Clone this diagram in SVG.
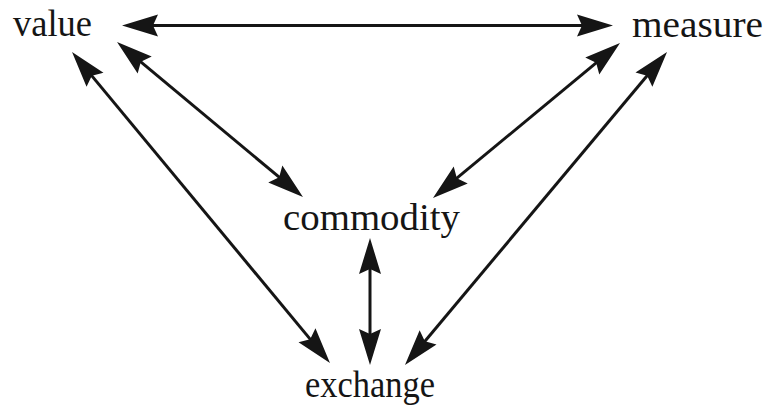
<svg xmlns="http://www.w3.org/2000/svg" width="769" height="412" viewBox="0 0 769 412">
  <style>
    .lbl { font-family: "Liberation Serif", "Times New Roman", serif; font-size: 37px; fill: #151515; }
    .con { stroke: #151515; stroke-width: 3; fill: none; }
  </style>
  <defs>
    <marker id="ah" viewBox="0 -12 36 24" refX="16" refY="0" markerWidth="36" markerHeight="24" markerUnits="userSpaceOnUse" orient="auto-start-reverse">
      <path d="M36,0 L0,-11 L5,0 L0,11 Z" fill="#151515"/>
    </marker>
  </defs>
  <rect width="769" height="412" fill="#ffffff"/>
  <g id="connectors">
    <line class="con" x1="142" y1="25.5" x2="593" y2="25.5" marker-start="url(#ah)" marker-end="url(#ah)"/>
    <line class="con" x1="84.8" y1="67.4" x2="317.2" y2="347.6" marker-start="url(#ah)" marker-end="url(#ah)"/>
    <line class="con" x1="132.4" y1="54.8" x2="287.6" y2="184.2" marker-start="url(#ah)" marker-end="url(#ah)"/>
    <line class="con" x1="604.6" y1="55.8" x2="448.4" y2="185.2" marker-start="url(#ah)" marker-end="url(#ah)"/>
    <line class="con" x1="654.2" y1="67.3" x2="417.8" y2="349.7" marker-start="url(#ah)" marker-end="url(#ah)"/>
    <line class="con" x1="370" y1="258" x2="370" y2="345" marker-start="url(#ah)" marker-end="url(#ah)"/>
  </g>
  <g id="value"><text class="lbl" x="13" y="35.5" textLength="79" lengthAdjust="spacingAndGlyphs">value</text></g>
  <g id="measure"><text class="lbl" x="632" y="36.5" textLength="131" lengthAdjust="spacingAndGlyphs">measure</text></g>
  <g id="commodity"><text class="lbl" x="283" y="230" textLength="177" lengthAdjust="spacingAndGlyphs">commodity</text></g>
  <g id="exchange"><text class="lbl" x="305" y="397" textLength="130" lengthAdjust="spacingAndGlyphs">exchange</text></g>
</svg>
